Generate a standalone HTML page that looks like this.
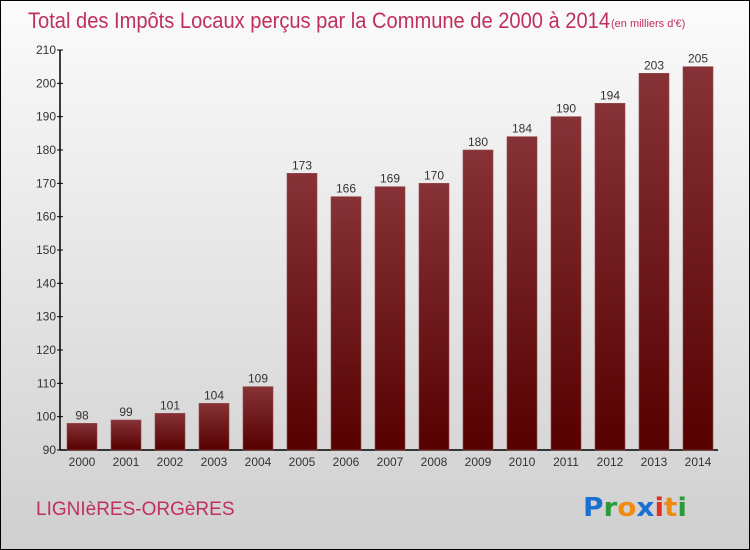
<!DOCTYPE html>
<html><head><meta charset="utf-8"><style>
body{margin:0}
#c{width:750px;height:550px;position:relative;overflow:hidden;font-family:"Liberation Sans",sans-serif}
</style></head><body>
<div id="c">
<svg width="750" height="550" xmlns="http://www.w3.org/2000/svg">
<defs>
<linearGradient id="bg" x1="0" y1="0" x2="0" y2="1"><stop offset="0" stop-color="#fbfbfb"/><stop offset="1" stop-color="#cfcfcf"/></linearGradient>
<linearGradient id="bar" x1="0" y1="0" x2="0" y2="1"><stop offset="0" stop-color="#863236"/><stop offset="1" stop-color="#560000"/></linearGradient>
</defs>
<rect x="0.5" y="0.5" width="749" height="549" fill="url(#bg)" stroke="#000"/>
<text x="28" y="28" font-size="22" fill="#c0305c" textLength="582" lengthAdjust="spacingAndGlyphs">Total des Impôts Locaux perçus par la Commune de 2000 à 2014</text>
<text x="611" y="27" font-size="11" fill="#c0305c">(en milliers d'€)</text>
<text x="36" y="515" font-size="19" fill="#c0305c">LIGNIèRES-ORGèRES</text>
<text x="583" y="516" font-size="26" font-weight="bold" font-family="'DejaVu Sans',sans-serif" textLength="104" lengthAdjust="spacingAndGlyphs"><tspan fill="#1a6fcf">P</tspan><tspan fill="#2a9a3a">r</tspan><tspan fill="#f08a10">o</tspan><tspan fill="#1a6fcf">x</tspan><tspan fill="#e03020">i</tspan><tspan fill="#f08a10">t</tspan><tspan fill="#2a9a3a">i</tspan></text>
<g id="axes"></g>
<g id="bars"></g>
</svg>
</div>
<script>
const years=["2000","2001","2002","2003","2004","2005","2006","2007","2008","2009","2010","2011","2012","2013","2014"];
const values=[98,99,101,104,109,173,166,169,170,180,184,190,194,203,205];
const yTicks=[90,100,110,120,130,140,150,160,170,180,190,200,210];
const NS="http://www.w3.org/2000/svg";
const y0=450,y1=50,vmin=90,vmax=210,axX=60;
function yS(v){return y0-(v-vmin)/(vmax-vmin)*(y0-y1);}
function xS(i){return 82+i*44;}
function mk(t,a,p){const e=document.createElementNS(NS,t);for(const k in a)e.setAttribute(k,a[k]);p.appendChild(e);return e;}
const ax=document.getElementById('axes'),bg=document.getElementById('bars');
const yl=mk('line',{x1:axX,y1:y1,x2:axX,y2:y0,stroke:'#000','stroke-width':1.5},ax);


const xl=mk('line',{x1:axX,y1:y0,x2:718,y2:y0,stroke:'#000','stroke-width':1.5},ax);


yTicks.forEach(v=>{
 const tk=mk('line',{x1:axX-3,y1:yS(v),x2:axX+3,y2:yS(v),stroke:'#000'},ax);
 
 
 const t=mk('text',{x:axX-4,y:yS(v)+4,'font-size':12,'text-anchor':'end',fill:'#333'},ax);
 t.textContent=v;
 
 
});
values.forEach((v,i)=>{
 const x=xS(i);
 const r=mk('rect',{x:x-15,y:yS(v),width:30,height:y0-yS(v),fill:'url(#bar)',stroke:'#9a4a4e','stroke-width':0.6},bg);
 
 
 const t=mk('text',{x:x,y:yS(v)-4,'font-size':12,'text-anchor':'middle',fill:'#333'},bg);
 t.textContent=v;
 
 
 const xt=mk('text',{x:x,y:466,'font-size':12,'text-anchor':'middle',fill:'#333'},bg);
 xt.textContent=years[i];
 
 
});
</script>
</body></html>
